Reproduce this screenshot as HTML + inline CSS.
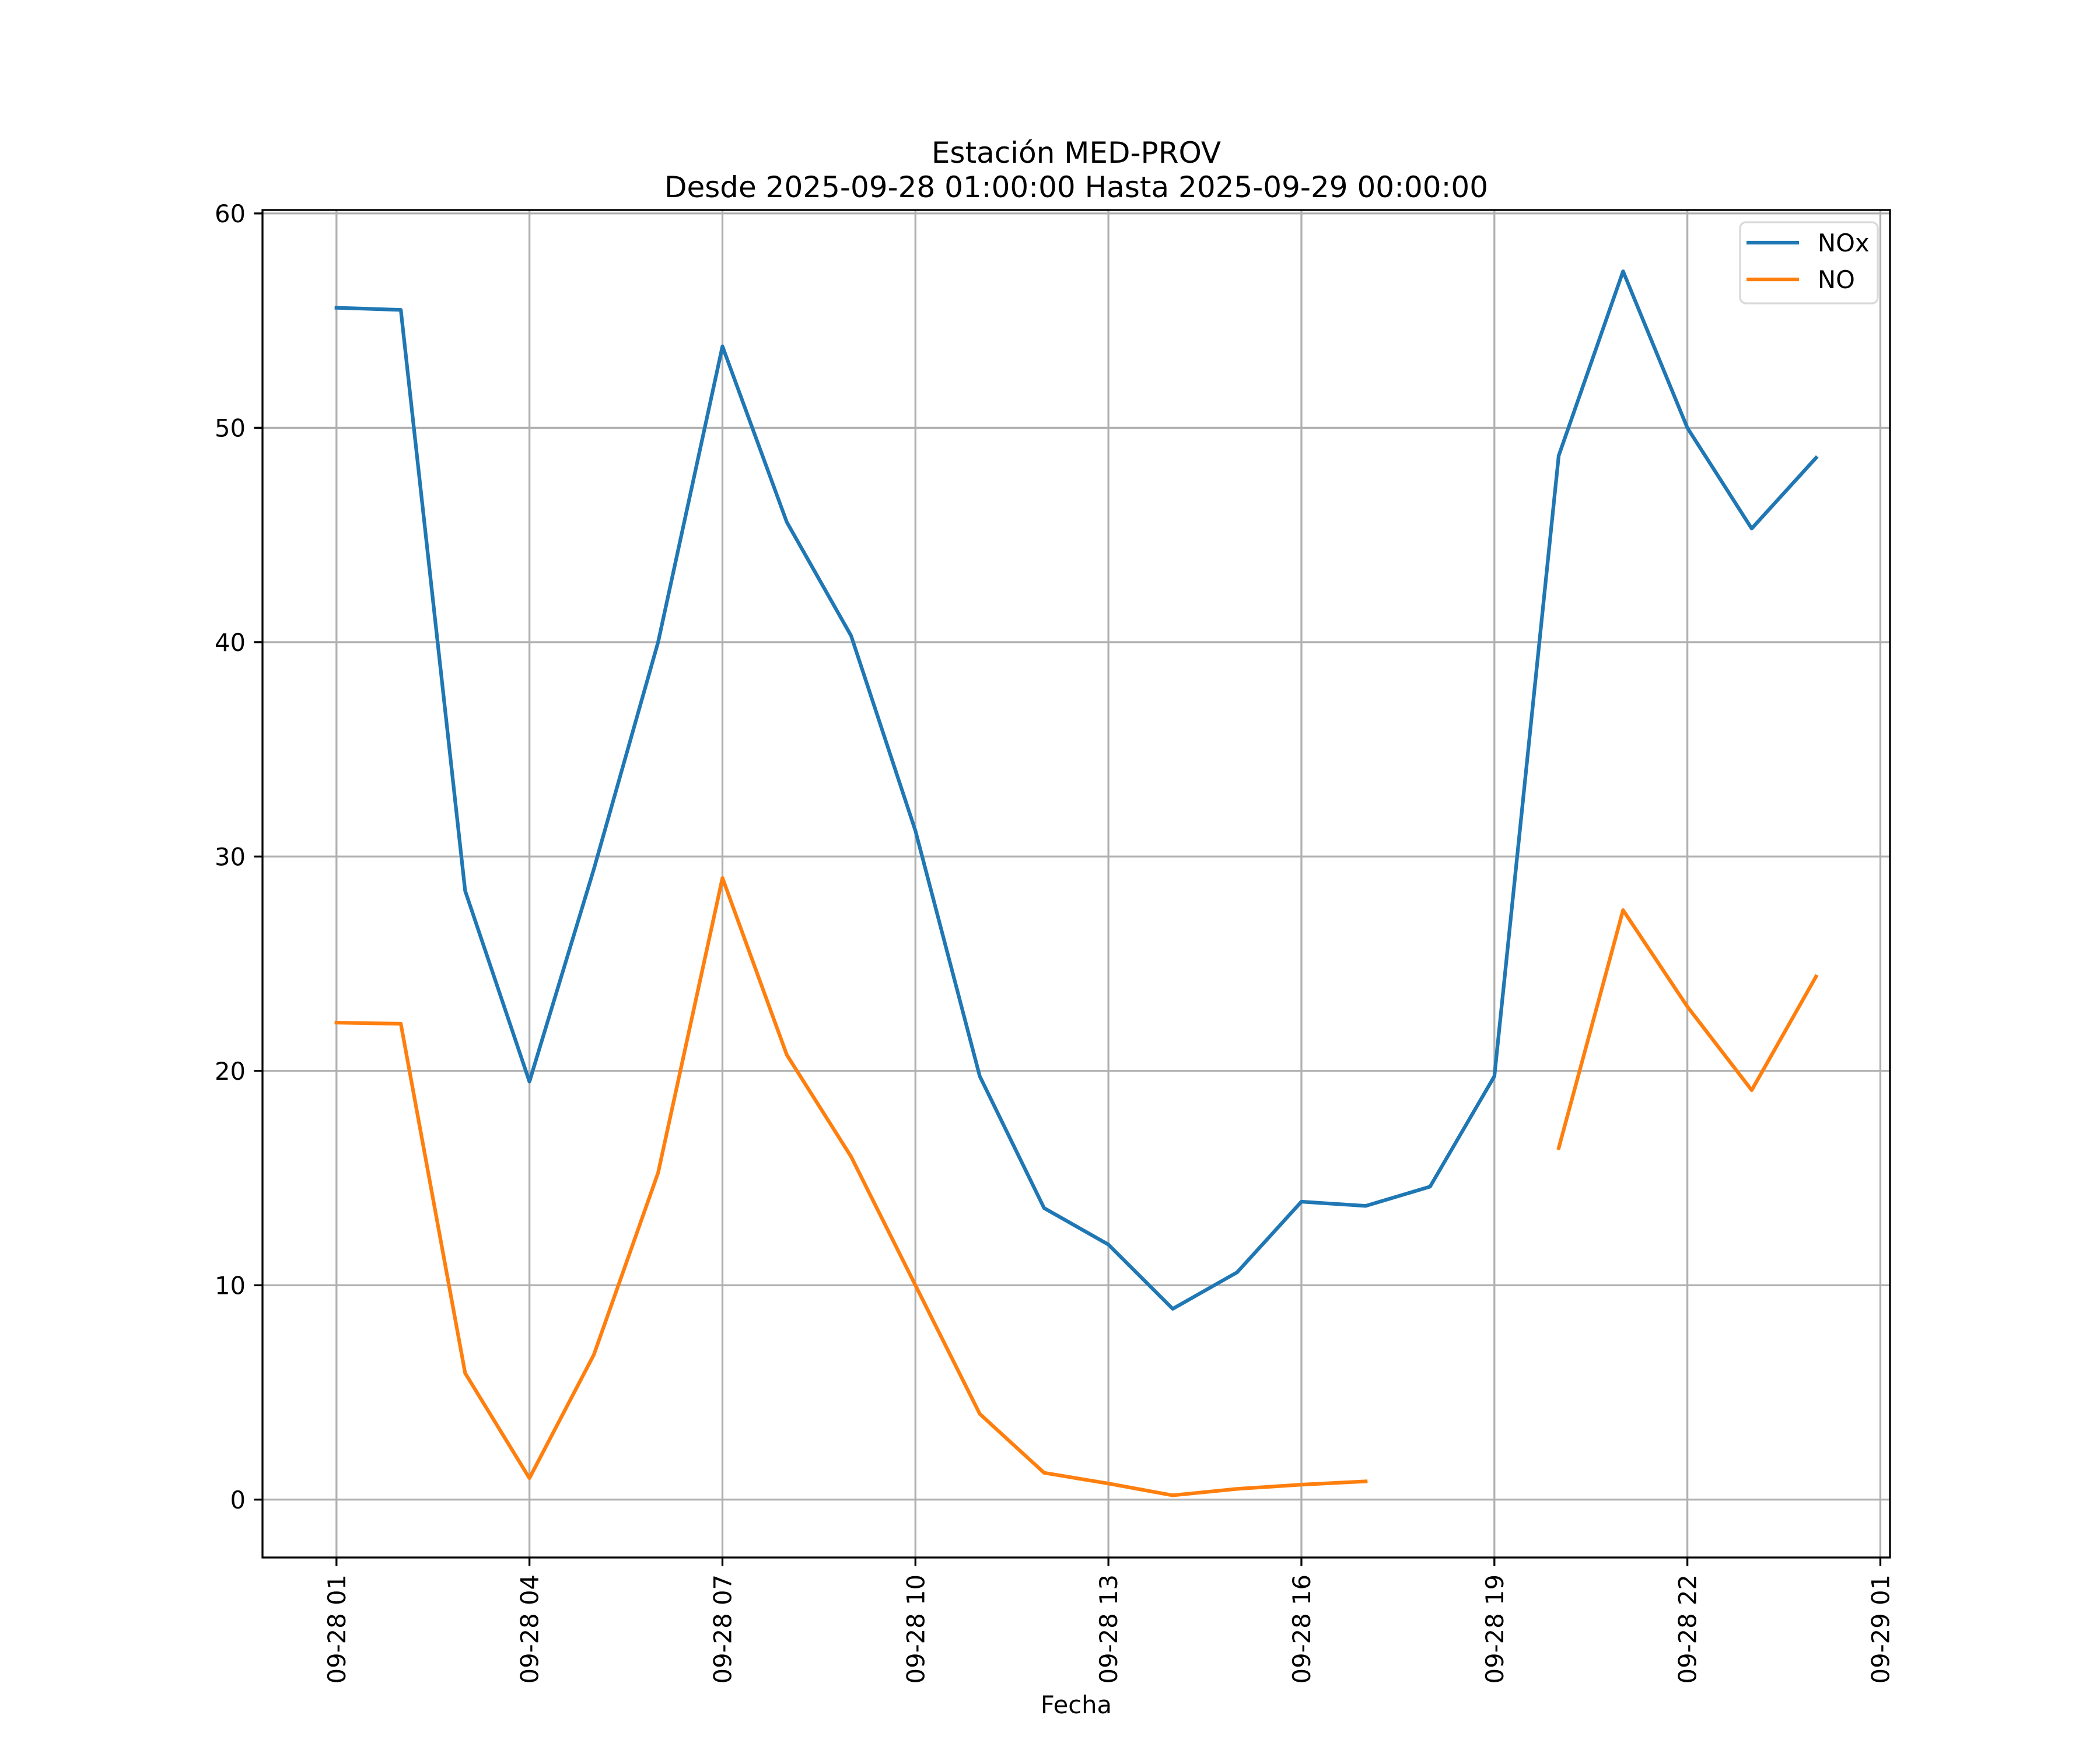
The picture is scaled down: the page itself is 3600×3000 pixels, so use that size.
<!DOCTYPE html>
<html><head><meta charset="utf-8">
<style>
html,body{margin:0;padding:0;background:#fff;}
svg{display:block;}
text{font-family:"DejaVu Sans","Liberation Sans",sans-serif;fill:#000;}
</style></head>
<body>
<svg id="chart" width="3600" height="3000" viewBox="0 0 3600 3000" xmlns="http://www.w3.org/2000/svg">
<rect x="0" y="0" width="3600" height="3000" fill="#fff"/>
<g id="grid"></g>
<g id="series"></g>
<g id="axes"></g>
<text x="1845" y="279" font-size="50" text-anchor="middle">Estación MED-PROV</text>
<text x="1845" y="338" font-size="50" text-anchor="middle">Desde 2025-09-28 01:00:00 Hasta 2025-09-29 00:00:00</text>
<text x="1845" y="2937" font-size="41.7" text-anchor="middle">Fecha</text>
<g>
<rect x="2983" y="381" width="236" height="139" rx="10" fill="#fff" fill-opacity="0.8" stroke="#d9d9d9" stroke-width="3.3"/>
<line x1="2994" y1="416" x2="3084" y2="416" stroke="#1f77b4" stroke-width="6.25"/>
<text x="3116" y="431" font-size="41.7">NOx</text>
<line x1="2994" y1="479" x2="3084" y2="479" stroke="#ff7f0e" stroke-width="6.25"/>
<text x="3116" y="494" font-size="41.7">NO</text>
</g>
</svg>
<script>
const hours = [0,1,2,3,4,5,6,7,8,9,10,11,12,13,14,15,16,17,18,19,20,21,22,23];
const noxValues = [55.6,55.5,28.4,19.5,29.4,40.0,53.8,45.6,40.3,31.2,19.75,13.6,11.9,8.9,10.6,13.9,13.7,14.6,19.75,48.7,57.3,50.0,45.3,48.6];
const noValues = [22.25,22.2,5.9,1.0,6.75,15.25,29.0,20.75,16.0,10.0,4.0,1.25,0.75,0.2,0.5,0.7,0.85,null,null,16.4,27.5,23.0,19.1,24.4];
const yTicks = [0,10,20,30,40,50,60];
const xTickHours = [0,3,6,9,12,15,18,21,24];
const xTickLabels = ["09-28 01","09-28 04","09-28 07","09-28 10","09-28 13","09-28 16","09-28 19","09-28 22","09-29 01"];

const NS="http://www.w3.org/2000/svg";
const L=450,R=3240,T=360,B=2670;
const xMin=-1.15,xMax=24.15,yMin=-2.7,yMax=60.16;
function sx(h){return L+(h-xMin)/(xMax-xMin)*(R-L);}
function sy(v){return B-(v-yMin)/(yMax-yMin)*(B-T);}
function mk(tag,attrs,parent){const e=document.createElementNS(NS,tag);for(const k in attrs)e.setAttribute(k,attrs[k]);parent.appendChild(e);return e;}
const grid=document.getElementById('grid'),axes=document.getElementById('axes'),series=document.getElementById('series');

yTicks.forEach(v=>{
  const y=sy(v);
  const g=mk('line',{x1:L,x2:R,y1:y,y2:y,stroke:'#b0b0b0','stroke-width':3.3},grid);
  
  
  const t=mk('line',{x1:L-14.6,x2:L,y1:y,y2:y,stroke:'#000','stroke-width':3.3},axes);
  
  
  const tx=mk('text',{x:L-29,y:y+15,'font-size':41.7,'text-anchor':'end'},axes);
  tx.textContent=v;
  
  
});
xTickHours.forEach((h,i)=>{
  const x=sx(h);
  const g=mk('line',{x1:x,x2:x,y1:T,y2:B,stroke:'#b0b0b0','stroke-width':3.3},grid);
  
  
  const t=mk('line',{x1:x,x2:x,y1:B,y2:B+14.6,stroke:'#000','stroke-width':3.3},axes);
  
  
  const tx=mk('text',{x:0,y:0,'font-size':41.7,'text-anchor':'end',transform:`translate(${x+15},${B+29}) rotate(-90)`},axes);
  tx.textContent=xTickLabels[i];
  
  
});
const frame=mk('rect',{x:L,y:T,width:R-L,height:B-T,fill:'none',stroke:'#000','stroke-width':3.3},axes);



function drawSeries(vals,color,name){
  let d='',pen=false;
  vals.forEach((v,i)=>{
    if(v===null){pen=false;return;}
    d+=(pen?'L':'M')+sx(hours[i]).toFixed(1)+' '+sy(v).toFixed(1)+' ';
    pen=true;
  });
  const p=mk('path',{d:d,fill:'none',stroke:color,'stroke-width':6.25,'stroke-linejoin':'round','stroke-linecap':'square'},series);
  
  
}
drawSeries(noxValues,'#1f77b4','nox-line');
drawSeries(noValues,'#ff7f0e','no-line');
</script>
</body></html>
